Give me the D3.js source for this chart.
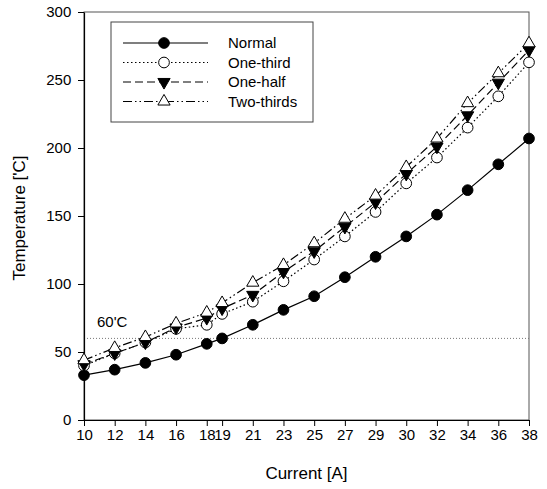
<!DOCTYPE html>
<html><head><meta charset="utf-8">
<script src="https://cdn.jsdelivr.net/npm/d3@7"></script>
<style>body{margin:0;background:#fff}svg{display:block;font-family:"Liberation Sans",Arial,sans-serif}</style>
</head><body><svg id="c" width="547" height="489"></svg>
<script>
const currents = [10,12,14,16,18,19,21,23,25,27,29,30,32,34,36,38];
const normal    = [33,37,42,48,56,60,70,81,91,105,120,135,151,169,188,207];
const oneThird  = [40,49,57,67,70,78,87,102,118,135,153,174,193,215,238,263];
const oneHalf   = [41,49,57,68,75,82,92,109,124,142,160,181,201,224,248,272];
const twoThirds = [44,53,61,71,79,86,101,114,130,148,165,186,207,233,255,277];
const yTicks = [0,50,100,150,200,250,300];
const seriesNames = ["Normal","One-third","One-half","Two-thirds"];
const limitValue = 60;
const limitLabel = "60'C";

const svg = d3.select("#c");
const L=84, R=529, T=12, B=420;
const slot = currents.map((c,i)=> i>=5 ? i-0.5 : i);
const x = d3.scaleLinear().domain(currents).range(slot.map(s=>L+(R-L)*s/slot[slot.length-1]));
const y = d3.scaleLinear().domain([0,300]).range([B,T]);

// frame
svg.append("rect").attr("x",L).attr("y",T).attr("width",R-L).attr("height",B-T)
  .attr("fill","none").attr("stroke","#555").attr("stroke-width",1);

// 60C line
svg.append("line").attr("x1",L).attr("x2",R).attr("y1",y(limitValue)).attr("y2",y(limitValue))
  .attr("stroke","#777").attr("stroke-width",1).attr("stroke-dasharray","1,2");
svg.append("text").attr("x",97).attr("y",y(limitValue)-11).attr("font-size",15).text(limitLabel);

// axes
const xa = svg.append("g").attr("transform",`translate(0,${B})`)
  .call(d3.axisBottom(x).tickValues(currents).tickFormat(d3.format("d")).tickSize(6).tickSizeOuter(0));
const ya = svg.append("g").attr("transform",`translate(${L},0)`)
  .call(d3.axisLeft(y).tickValues(yTicks).tickSize(6).tickSizeOuter(0));
[xa,ya].forEach(a=>{a.select(".domain").attr("stroke","#000").attr("stroke-width",1.2);
  a.selectAll("line").attr("stroke","#000");
  a.selectAll("text").attr("font-size",15).attr("font-family","Liberation Sans,Arial,sans-serif").attr("fill","#000");});
xa.selectAll("text").attr("dy","0.75em");
ya.selectAll("text").attr("dx","-0.25em");

svg.append("text").attr("x",(L+R)/2).attr("y",479).attr("text-anchor","middle").attr("font-size",17).text("Current [A]");
svg.append("text").attr("transform",`translate(25,${(T+B)/2+2}) rotate(-90)`).attr("text-anchor","middle").attr("font-size",17).text("Temperature ['C]");

const styles = [
  {vals:normal, dash:null, sym:d3.symbolCircle, fill:"#000", size:90},
  {vals:oneThird, dash:"1.5,2.5", sym:d3.symbolCircle, fill:"#fff", size:90},
  {vals:oneHalf, dash:"8,4", sym:"down", fill:"#000", size:65},
  {vals:twoThirds, dash:"9,3,1.5,3,1.5,3", sym:d3.symbolTriangle, fill:"#fff", size:65},
];
function marker(g, s, cx, cy){
  let p;
  if(s.sym==="down") p = g.append("path").attr("d",d3.symbol(d3.symbolTriangle,s.size)()).attr("transform",`translate(${cx},${cy}) rotate(180)`);
  else p = g.append("path").attr("d",d3.symbol(s.sym,s.size)()).attr("transform",`translate(${cx},${cy})`);
  p.attr("fill",s.fill).attr("stroke","#000").attr("stroke-width",1);
}
const line = d3.line().x((d,i)=>x(currents[i])).y(d=>y(d));
styles.forEach(s=>{
  svg.append("path").attr("d",line(s.vals)).attr("fill","none").attr("stroke","#000")
    .attr("stroke-width",1.2).attr("stroke-dasharray",s.dash);
});
styles.forEach(s=>{
  const g = svg.append("g");
  s.vals.forEach((v,i)=>marker(g,s,x(currents[i]),y(v)));
});

// legend
const lg = svg.append("g");
lg.append("rect").attr("x",111).attr("y",22).attr("width",202).attr("height",100).attr("fill","#fff").attr("stroke","#444");
styles.forEach((s,i)=>{
  const ly = 43 + i*19.5;
  lg.append("line").attr("x1",123).attr("x2",208).attr("y1",ly).attr("y2",ly).attr("stroke","#000")
    .attr("stroke-width",1.2).attr("stroke-dasharray",s.dash);
  marker(lg,s,164,ly);
  lg.append("text").attr("x",228).attr("y",ly+5).attr("font-size",15).text(seriesNames[i]);
});
</script></body></html>
